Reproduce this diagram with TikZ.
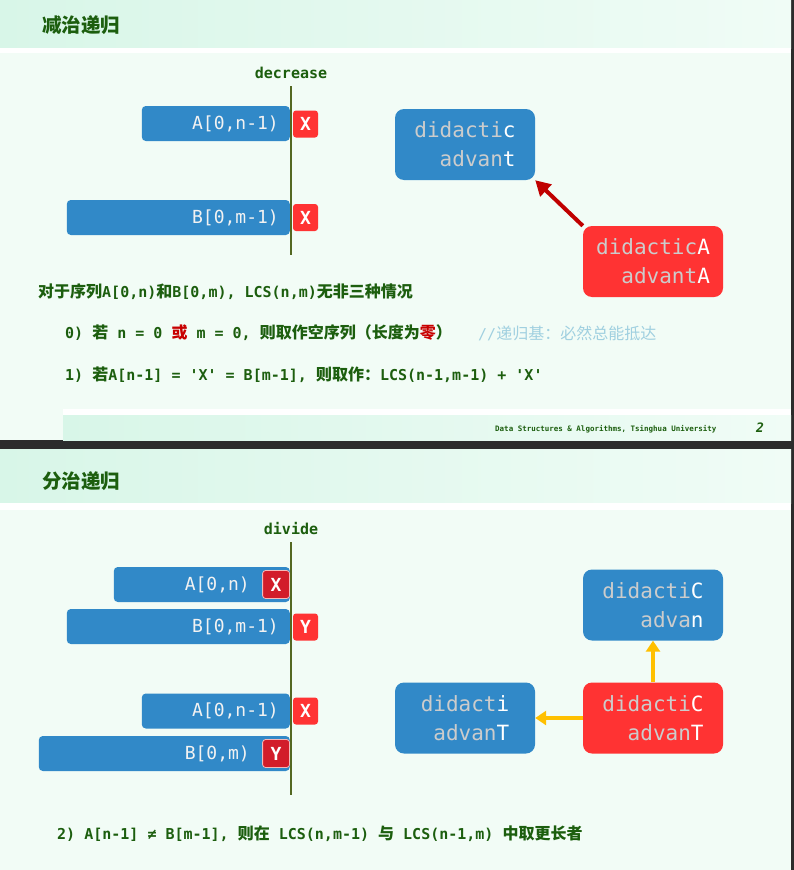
\documentclass[tikz,border=0pt]{standalone}
\usepackage{fontspec}
\setmonofont{DejaVu Sans Mono}
\newfontfamily\cjk{Noto Sans CJK SC}
\usetikzlibrary{arrows.meta}
\definecolor{dg}{RGB}{28,94,14}
\definecolor{bodybg}{RGB}{242,252,246}
\definecolor{hdrL}{RGB}{216,246,232}
\definecolor{hdrR}{RGB}{240,252,246}
\definecolor{sep}{RGB}{44,44,44}
\definecolor{barblue}{RGB}{49,137,200}
\definecolor{xred}{RGB}{255,51,51}
\definecolor{xdred}{RGB}{210,28,42}
\definecolor{xbord}{RGB}{245,185,185}
\definecolor{vol}{RGB}{84,104,34}
\definecolor{arrred}{RGB}{192,0,0}
\definecolor{ayel}{RGB}{255,192,0}
\definecolor{gry}{RGB}{204,204,204}
\definecolor{cmt}{RGB}{160,208,224}
\definecolor{rtxt}{RGB}{200,0,0}
\newcommand\zh[1]{{\cjk\fontsize{16}{16}\selectfont #1}}
\begin{document}
\begin{tikzpicture}[x=1pt,y=-1pt,
  bar/.style={fill=barblue, rounded corners=4pt, minimum height=35pt, inner sep=0pt, anchor=east},
  bartxt/.style={text=white!95!black, font=\ttfamily\fontsize{18}{18}\selectfont, anchor=east, inner sep=0pt},
  xout/.style={fill=xred, rounded corners=3pt, minimum width=25pt, minimum height=27pt, inner sep=0pt, text=white, font=\ttfamily\bfseries\fontsize{18}{18}\selectfont},
  xin/.style={xout, fill=xdred, draw=xbord, line width=0.8pt, minimum width=27pt, minimum height=28pt, anchor=east},
  big/.style={rounded corners=9pt, minimum width=140pt, minimum height=71pt, align=right, text=white, font=\ttfamily\fontsize{21}{29}\selectfont, inner sep=0pt},
  bodytxt/.style={font=\ttfamily\bfseries\fontsize{15}{16}\selectfont, text=dg, anchor=west, inner sep=0pt},
  vline/.style={draw=vol, line width=2.5pt},
  darr/.style={draw=arrred, line width=4pt, -{Triangle[length=15pt,width=16pt]}},
  yarr/.style={draw=ayel, line width=4pt, -{Triangle[length=11pt,width=14pt]}},
  ttl/.style={anchor=west, inner sep=0pt, text=dg, font=\cjk\bfseries\fontsize{19.5}{20}\selectfont},
  lbl/.style={inner sep=0pt, text=dg, font=\ttfamily\bfseries\fontsize{15}{16}\selectfont}
]
\useasboundingbox (0,0) rectangle (794,870);
% backgrounds
\fill[sep] (0,0) rectangle (794,870);
\shade[left color=hdrL, right color=hdrR] (0,0) rectangle (791,48);
\fill[white] (0,48) rectangle (791,53);
\fill[bodybg] (0,53) rectangle (791,440);
\fill[white] (63,409) rectangle (791,415);
\shade[left color=hdrL, right color=hdrR] (63,415) rectangle (791,440);
\shade[left color=hdrL, right color=hdrR] (0,449) rectangle (791,503);
\fill[white] (0,503) rectangle (791,510);
\fill[bodybg] (0,510) rectangle (791,870);

% ===== slide 1 =====
\node[ttl] (t1) at (42,25) {减治递归};
\node[lbl] (dec) at (291,73) {decrease};

\node[bar, minimum width=148pt] (a1) at (290,123.5) {};
\node[bartxt] (a1t) at ([xshift=-11pt]a1.east) {A[0,n-1)};
\node[xout] (a1x) at (305.5,124) {X};
\node[bar, minimum width=223pt] (b1) at (290,217.5) {};
\node[bartxt] (b1t) at ([xshift=-11pt]b1.east) {B[0,m-1)};
\node[xout] (b1x) at (305.5,217.5) {X};

\coordinate (v1t) at (291,86);
\coordinate (v1b) at (291,255);
\draw[vline] (v1t) -- (v1b);

\node[big, fill=barblue] (bb1) at (465,144.5) {\textcolor{gry}{didacti}c\\\textcolor{gry}{advan}t};
\node[big, fill=xred] (rr1) at (653,261.5) {\textcolor{gry}{didactic}A\\\textcolor{gry}{advant}A};
\draw[darr] (rr1.north west) -- (bb1.south east);

\node[bodytxt] (l0) at (38,292) {\zh{对于序列}A[0,n)\zh{和}B[0,m), LCS(n,m)\zh{无非三种情况}};
\node[bodytxt] (l1) at (65,333) {0) \zh{若} n = 0 \textcolor{rtxt}{\zh{或}} m = 0, \zh{则取作空序列（长度为\textcolor{rtxt}{零}）}};
\node[anchor=west, inner sep=0pt, text=cmt, font=\ttfamily\fontsize{15}{16}\selectfont] (cm) at (478,333) {//{\cjk\fontsize{16}{16}\selectfont 递归基：必然总能抵达}};
\node[bodytxt] (l2) at (65,375) {1) \zh{若}A[n-1] = 'X' = B[m-1], \zh{则取作：}LCS(n-1,m-1) + 'X'};

\node[anchor=west, inner sep=0pt, text=dg, font=\ttfamily\bfseries\fontsize{7.5}{8}\selectfont] (ft) at (495,429) {Data Structures \& Algorithms, Tsinghua University};
\node[inner sep=0pt, text=dg, font=\ttfamily\bfseries\itshape\fontsize{13}{13}\selectfont] (pg) at (760,428) {2};

% ===== slide 2 =====
\node[ttl] (t2) at (42,481) {分治递归};
\node[lbl] (dv) at (291,529) {divide};

\node[bar, minimum width=176pt] (a2) at (290,584.5) {};
\node[bartxt] (a2t) at ([xshift=-40pt]a2.east) {A[0,n)};
\node[xin] (a2x) at (290,584.5) {X};
\node[bar, minimum width=223pt] (b2) at (290,626.5) {};
\node[bartxt] (b2t) at ([xshift=-11pt]b2.east) {B[0,m-1)};
\node[xout] (b2x) at (305.5,627) {Y};
\node[bar, minimum width=148pt] (a3) at (290,711) {};
\node[bartxt] (a3t) at ([xshift=-11pt]a3.east) {A[0,n-1)};
\node[xout] (a3x) at (305.5,711) {X};
\node[bar, minimum width=251pt] (b3) at (290,753.5) {};
\node[bartxt] (b3t) at ([xshift=-40pt]b3.east) {B[0,m)};
\node[xin] (b3x) at (290,753.5) {Y};

\coordinate (v2t) at (291,542);
\coordinate (v2b) at (291,795);
\draw[vline] (v2t) -- (v2b);

\node[big, fill=barblue] (bb2) at (653,605) {\textcolor{gry}{didacti}C\\\textcolor{gry}{adva}n};
\node[big, fill=barblue] (bb3) at (465,718) {\textcolor{gry}{didact}i\\\textcolor{gry}{advan}T};
\node[big, fill=xred] (rr2) at (653,718) {\textcolor{gry}{didacti}C\\\textcolor{gry}{advan}T};
\draw[yarr] (rr2.north) -- (bb2.south);
\draw[yarr] (rr2.west) -- (bb3.east);

\node[bodytxt] (l3) at (57,834) {2) A[n-1] ≠ B[m-1], \zh{则在} LCS(n,m-1) \zh{与} LCS(n-1,m) \zh{中取更长者}};
\end{tikzpicture}
\end{document}
